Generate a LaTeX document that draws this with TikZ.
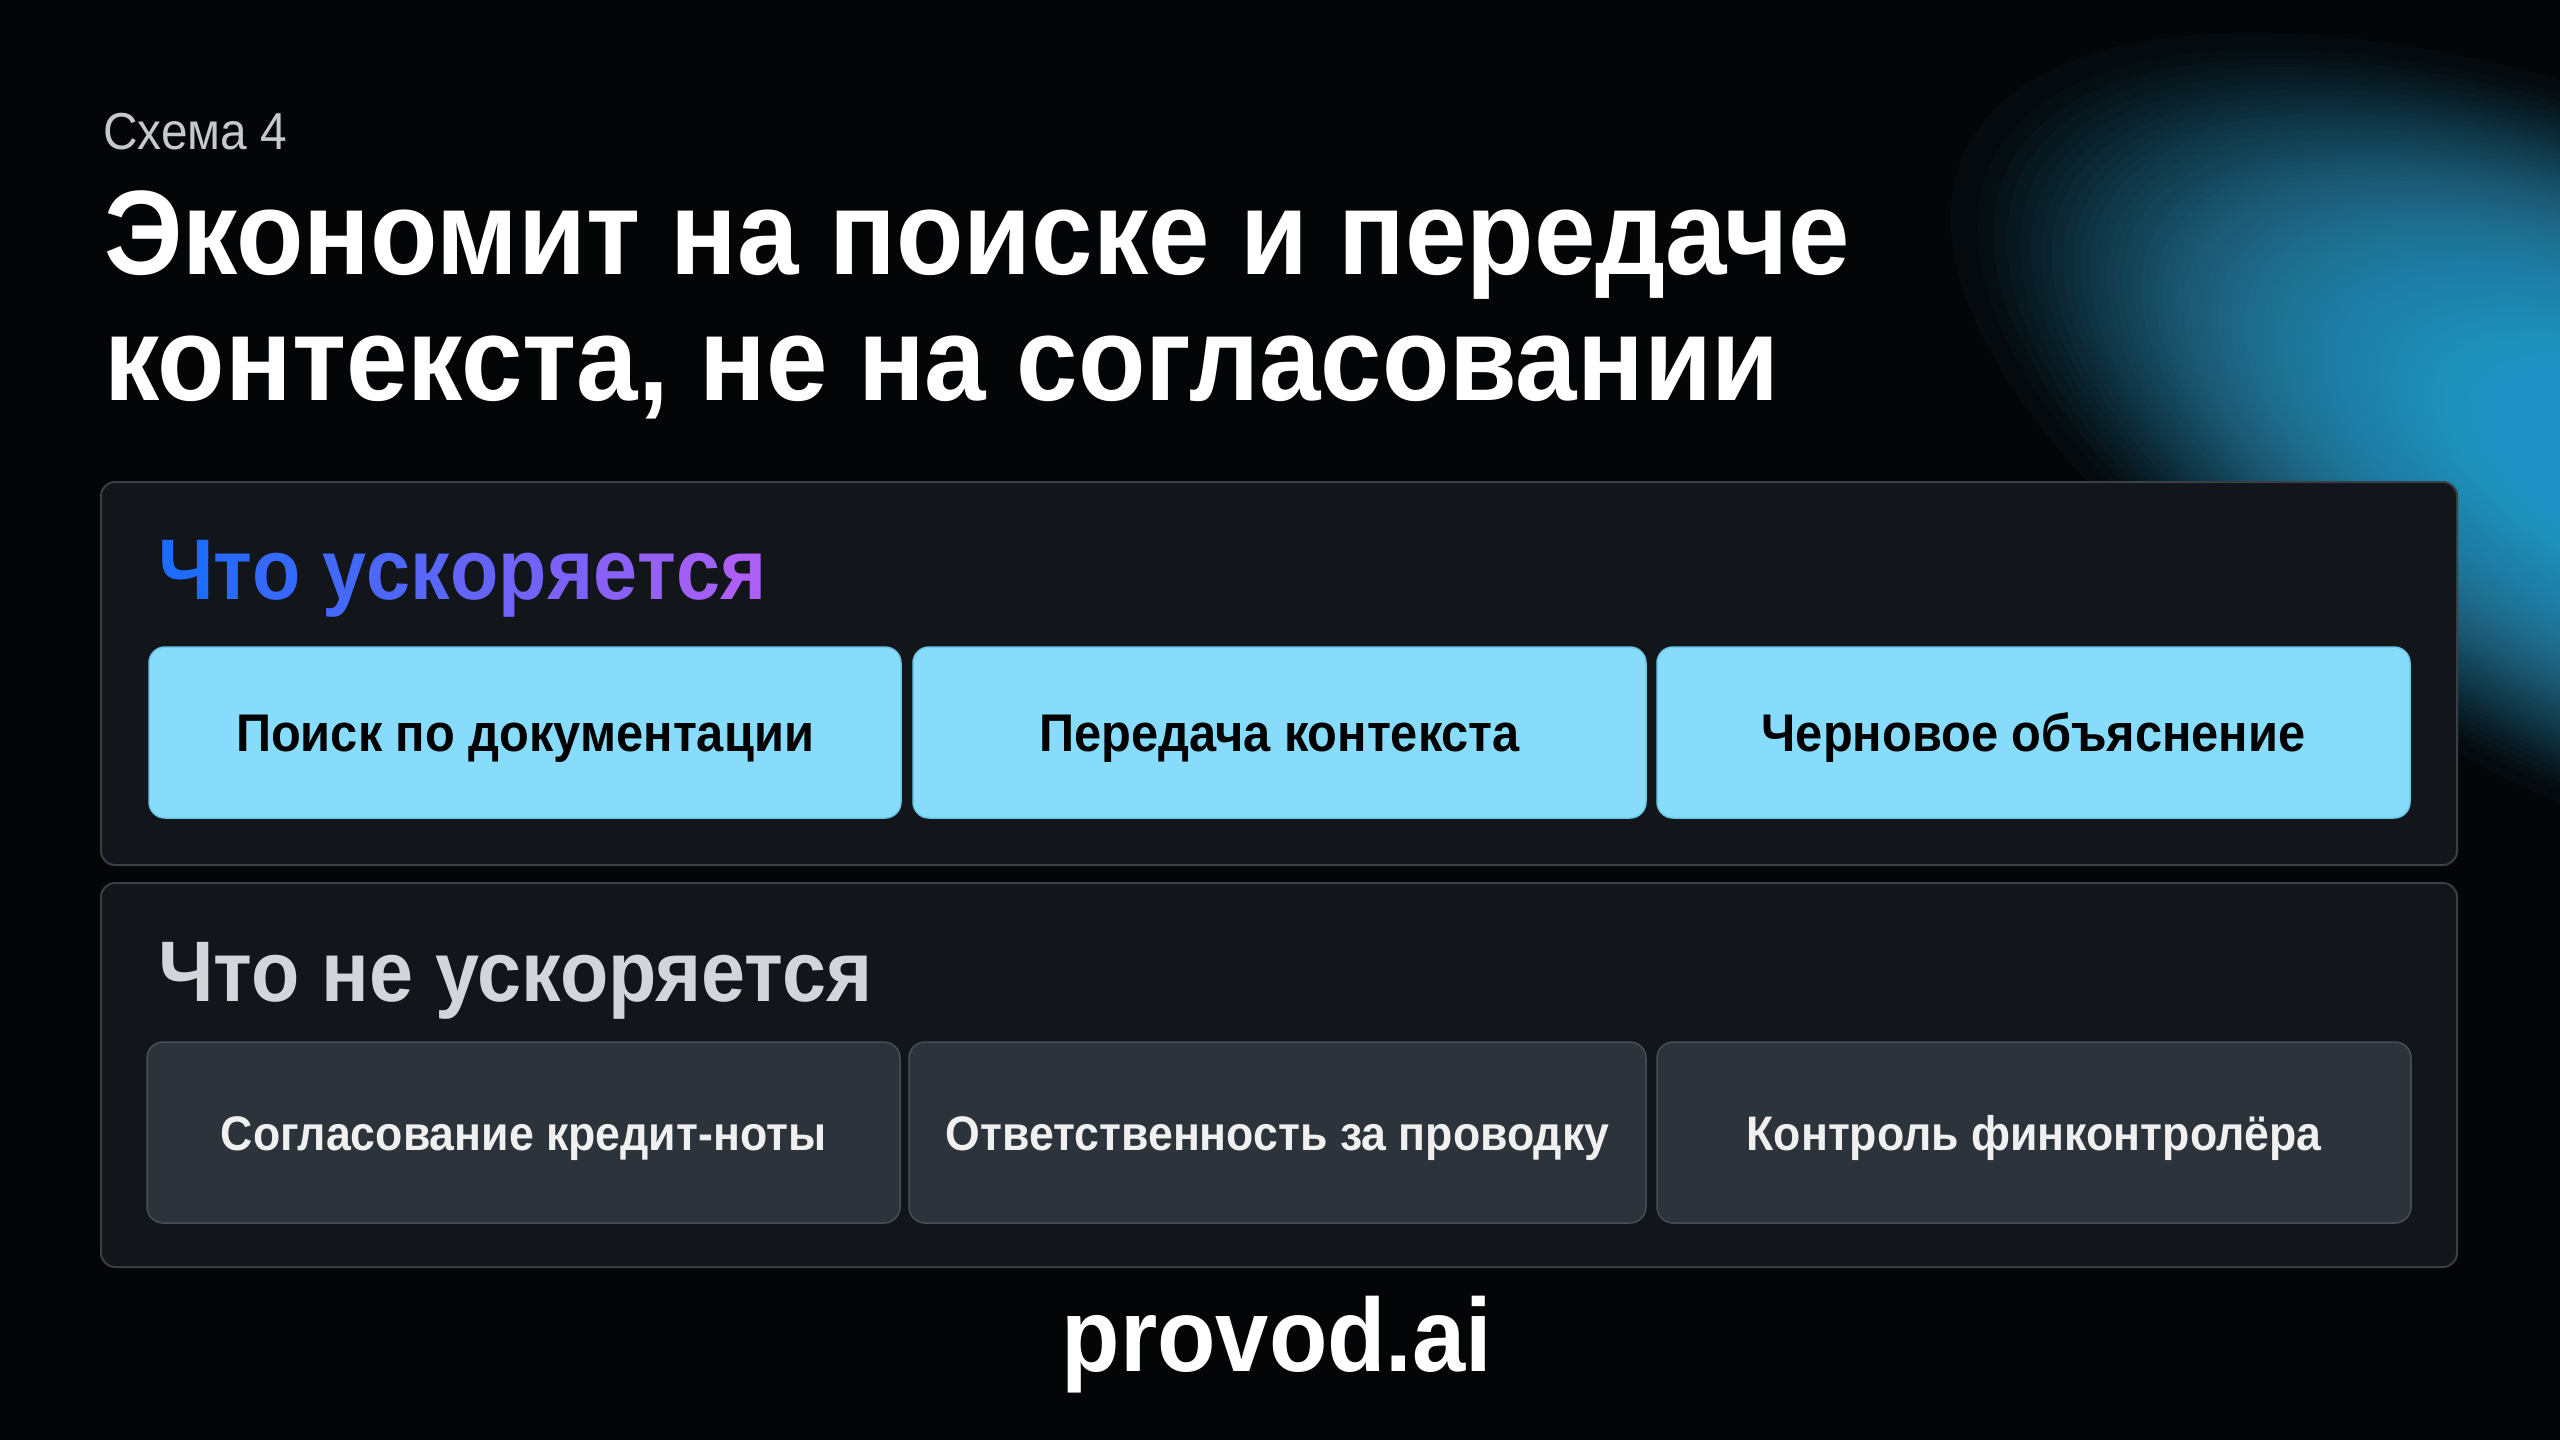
\documentclass[tikz,border=0pt]{standalone}
\usepackage{fontspec}
\usepackage{tikz}
\usetikzlibrary{positioning}
\setmainfont{Liberation Sans}
\newfontfamily\slidefont[FakeStretch=0.92]{Liberation Sans}
\definecolor{bgdark}{HTML}{030507}
\definecolor{glowblue}{HTML}{3CB0E2}
\definecolor{panelfill}{HTML}{12161B}
\definecolor{panelline}{HTML}{3A3F45}
\definecolor{fastfill}{HTML}{86DCFA}
\definecolor{fastline}{HTML}{6CC6E6}
\definecolor{slowfill}{HTML}{2C333A}
\definecolor{slowline}{HTML}{474E55}
\definecolor{headA}{HTML}{1E6BFF}
\definecolor{headB}{HTML}{AD5EF4}
\definecolor{subgray}{HTML}{C6C9CC}
\definecolor{slowhead}{HTML}{D2D6DA}
\newcommand{\hl}[2]{\textcolor{headB!#1!headA}{#2}}

\begin{document}
\begin{tikzpicture}[x=1pt, y=-1pt,
  panel/.style={draw=panelline, line width=2pt, fill=panelfill, rounded corners=14pt,
    minimum width=2356pt, minimum height=383pt, inner sep=0pt},
  fastbox/.style={draw=fastline, line width=1.5pt, fill=fastfill, rounded corners=16pt,
    minimum height=171pt, inner sep=0pt, text=black, text height=38pt, text depth=0pt,
    font=\slidefont\bfseries\fontsize{53}{60}\selectfont},
  slowbox/.style={draw=slowline, line width=1.5pt, fill=slowfill, rounded corners=16pt,
    minimum height=181pt, inner sep=0pt, text=white!94!black, text height=35pt, text depth=0pt,
    font=\slidefont\bfseries\fontsize{48.5}{56}\selectfont},
  heading/.style={anchor=base west, inner sep=0pt,
    font=\slidefont\bfseries\fontsize{86}{92}\selectfont}
]
  % Background and glow
  \useasboundingbox (0,0) rectangle (2560,1440);
  \clip (0,0) rectangle (2560,1440);
  \fill[bgdark] (0,0) rectangle (2560,1440);
  \foreach \k in {0,...,119}
    \fill[glowblue, opacity=0.03, rotate around={-25:(2690,490)}]
      (2690,490) ellipse [x radius={800*(1-(\k/120)^0.7)}, y radius={340*(1-(\k/120)^0.7)}];

  % Caption and title
  \node[anchor=base west, inner sep=0pt, text=subgray,
    font=\slidefont\fontsize{52}{56}\selectfont] (caption) at (103,149) {Схема 4};
  \node[anchor=base west, inner sep=0pt, text=white,
    font=\slidefont\bfseries\fontsize{120}{126}\selectfont] (title1) at (104,274)
    {Экономит на поиске и передаче};
  \node[anchor=base west, inner sep=0pt, text=white,
    font=\slidefont\bfseries\fontsize{120}{126}\selectfont] (title2) at (104,400)
    {контекста, не на согласовании};

  % What gets faster
  \node[panel] (fastpanel) at (1279,673.5) {};
  \node[heading] (fasthead) at (158,599)
    {\hl{0}{Ч}\hl{8}{т}\hl{16}{о} \hl{25}{у}\hl{33}{с}\hl{41}{к}\hl{50}{о}\hl{58}{р}\hl{66}{я}\hl{75}{е}\hl{83}{т}\hl{91}{с}\hl{100}{я}};
  \node[fastbox, minimum width=752pt] (fast1) at (525,732.5) {Поиск по документации};
  \node[fastbox, minimum width=733pt] (fast2) at (1279.5,732.5) {Передача контекста};
  \node[fastbox, minimum width=753pt] (fast3) at (2033.5,732.5) {Черновое объяснение};

  % What does not get faster
  \node[panel, minimum height=384pt] (slowpanel) at (1279,1075) {};
  \node[heading, text=slowhead] (slowhead) at (158,1001) {Что не ускоряется};
  \node[slowbox, minimum width=753pt] (slow1) at (523.5,1132.5) {Согласование кредит-ноты};
  \node[slowbox, minimum width=737pt] (slow2) at (1277.5,1132.5) {Ответственность за проводку};
  \node[slowbox, minimum width=754pt] (slow3) at (2034,1132.5) {Контроль финконтролёра};

  % Logo
  \node[anchor=base, inner sep=0pt, text=white,
    font=\slidefont\bfseries\fontsize{104}{110}\selectfont] (logo) at (1277,1371) {provod.ai};
\end{tikzpicture}
\end{document}
